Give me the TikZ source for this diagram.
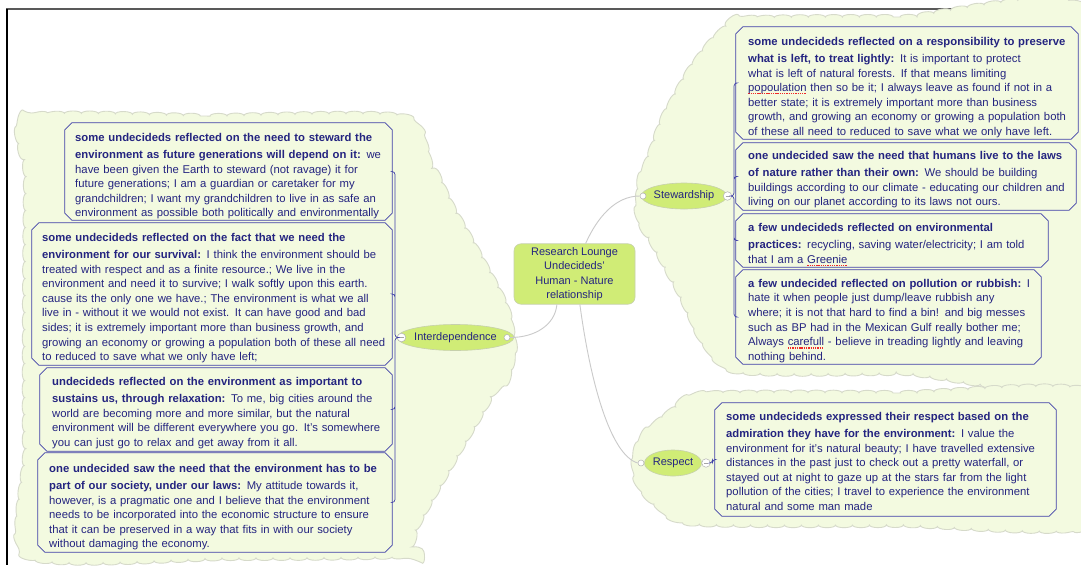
\documentclass[tikz,border=0pt]{standalone}
\usepackage{fontspec}
\setmainfont{Liberation Sans}
\usetikzlibrary{shapes.geometric,decorations.pathmorphing}

\definecolor{cloudfill}{RGB}{243,250,224}
\definecolor{cloudedge}{RGB}{214,218,202}
\definecolor{topicfill}{RGB}{208,236,118}
\definecolor{topicedge}{RGB}{198,208,172}
\definecolor{noteedge}{RGB}{64,64,168}
\definecolor{ink}{RGB}{36,36,128}
\definecolor{linkgrey}{RGB}{202,202,202}
\definecolor{typored}{RGB}{240,40,40}

% red dotted spell-check mark
\newsavebox\typobox
\newcommand\typo[1]{\leavevmode\sbox\typobox{#1}\rlap{\lower2.8pt\hbox to\wd\typobox{\textcolor{typored}{\xleaders\hbox{\rule{1.3pt}{1.1pt}\kern0.9pt}\hfill}}}\usebox\typobox}
% octagonal frame round a note node
\newcommand\chamferframe[1]{\draw[noteline] ([xshift=7pt]#1.north west) -- ([xshift=-7pt]#1.north east)
	-- ([yshift=-7pt]#1.north east) -- ([yshift=7pt]#1.south east) -- ([xshift=-7pt]#1.south east)
	-- ([xshift=7pt]#1.south west) -- ([yshift=7pt]#1.south west) -- ([yshift=-7pt]#1.north west) -- cycle;}

\tikzset{
	bgcloud/.style={fill=cloudfill,draw=cloudedge,line width=0.9pt,decorate,
		decoration={bumps,segment length=34pt,amplitude=2.6pt}},
	hub/.style={rectangle,rounded corners=7pt,fill=topicfill,draw=topicedge,line width=0.6pt,
		minimum width=121pt,minimum height=60pt,align=center,text=ink,
		font=\fontsize{11}{14.5}\selectfont},
	topic/.style={ellipse,fill=topicfill,draw=topicedge,line width=0.6pt,inner sep=0pt,
		minimum height=26pt,text=ink,font=\fontsize{11}{13}\selectfont},
	notebox/.style={rectangle,inner sep=0pt},
	noteline/.style={draw=noteedge,line width=0.8pt,line join=round},
	notetext/.style={anchor=north west,inner sep=0pt,align=left,text width=345pt,text=ink,
		font=\fontsize{11.3}{14.6}\selectfont},
	linkdot/.style={circle,fill=white,draw=gray!60,line width=0.5pt,inner sep=0pt,minimum size=6pt},
	foldmark/.style={circle,fill=white,draw=gray!60,line width=0.5pt,inner sep=0pt,minimum size=8.5pt,
		path picture={\draw[gray!70,line width=0.7pt] ([xshift=-2pt]path picture bounding box.center) -- ([xshift=2pt]path picture bounding box.center);}},
	link/.style={draw=linkgrey,line width=0.9pt},
	branch/.style={draw=noteedge,line width=0.7pt,rounded corners=3pt}
}

\begin{document}
\begin{tikzpicture}[x=1pt,y=-1pt]
	\useasboundingbox (0,0) rectangle (1081,565);
	\fill[white] (0,0) rectangle (1081,565);
	\clip (0,0) rectangle (1081,565);
	% window edge
	\draw[gray!70!black,line width=2pt] (6,9) -- (1081,9);
	\draw[black,line width=1.4pt] (7,9) -- (7,565);
	% clouds
	\path[bgcloud] plot[smooth cycle,tension=.4] coordinates {(27,117) (210,116) (400,116) (430,160) (452,205) (480,255) (505,303) (514,343) (509,374) (494,393) (478,420) (462,447) (446,475) (430,503) (416,530) (411,555) (230,558) (29,557) (25,450) (25,300) (26,180)};
	\path[bgcloud] plot[smooth cycle,tension=.4] coordinates {(742,19) (900,17) (1095,17) (1095,372) (900,373) (742,372) (705,345) (680,295) (657,252) (640,222) (639,186) (651,150) (663,118) (688,72) (714,38)};
	\path[bgcloud] plot[smooth cycle,tension=.4] coordinates {(705,394) (900,393) (1095,393) (1095,524) (900,525) (700,524) (663,511) (642,490) (634,462) (642,438) (666,415)};

	\node[hub] (hub) at (574.5,274) {Research Lounge\\Undecideds'\\Human - Nature\\relationship};
	\node[topic,minimum width=99pt] (inter) at (455.5,337.5) {Interdependence};
	\node[topic,minimum width=80pt] (stew) at (684,196) {Stewardship};
	\node[topic,minimum width=57pt] (resp) at (673,463) {Respect};
	\node[linkdot] (idot) at (507,337.5) {};
	\node[foldmark] (imin) at (401.5,337.5) {};
	\node[linkdot] (sdot) at (643,196) {};
	\node[foldmark] (smin) at (727.5,196) {};
	\node[linkdot] (rdot) at (641,463) {};
	\node[foldmark] (rmin) at (706,463) {};

	\draw[link] (hub.70) .. controls (597,218) and (615,196) .. (sdot.west);
	\draw[link] (hub.240) .. controls (555,325) and (535,337.5) .. (idot.east);
	\draw[link] (hub.280) .. controls (590,380) and (610,455) .. (rdot.west);

	% note frames
	\node[notebox,minimum width=327pt,minimum height=97pt] (i1) at (228.5,171.5) {};
	\node[notebox,minimum width=360pt,minimum height=142pt] (i2) at (212,294) {};
	\node[notebox,minimum width=352pt,minimum height=83pt] (i3) at (216,409.5) {};
	\node[notebox,minimum width=354pt,minimum height=99pt] (i4) at (215,502.5) {};
	\node[notebox,minimum width=342pt,minimum height=112pt] (s1) at (907,83) {};
	\node[notebox,minimum width=340pt,minimum height=67pt] (s2) at (906,176.5) {};
	\node[notebox,minimum width=312pt,minimum height=53pt] (s3) at (892,240.5) {};
	\node[notebox,minimum width=305pt,minimum height=94pt] (s4) at (888.5,317) {};
	\node[notebox,minimum width=341pt,minimum height=113pt] (r1) at (885.5,459.5) {};
	\chamferframe{i1}\chamferframe{i2}\chamferframe{i3}\chamferframe{i4}
	\chamferframe{s1}\chamferframe{s2}\chamferframe{s3}\chamferframe{s4}
	\chamferframe{r1}

	% interdependence notes
	\node[notetext] (i1t) at (75,133)
		{\textbf{some undecideds reflected on the need to steward the}\\[2.5pt]
		\textbf{environment as future generations will depend on it:} we\\
		have been given the Earth to steward (not ravage) it for\\
		future generations; I am a guardian or caretaker for my\\
		grandchildren; I want my grandchildren to live in as safe an\\
		environment as possible both politically and environmentally};
	\node[notetext] (i2t) at (42,233)
		{\textbf{some undecideds reflected on the fact that we need the}\\[2.5pt]
		\textbf{environment for our survival:} I think the environment should be\\
		treated with respect and as a finite resource.; We live in the\\
		environment and need it to survive; I walk softly upon this earth.\\
		cause its the only one we have.; The environment is what we all\\
		live in - without it we would not exist.  It can have good and bad\\
		sides; it is extremely important more than business growth, and\\
		growing an economy or growing a population both of these all need\\
		to reduced to save what we only have left;};
	\node[notetext] (i3t) at (52,377)
		{\textbf{undecideds reflected on the environment as important to}\\[2.5pt]
		\textbf{sustains us, through relaxation:} To me, big cities around the\\
		world are becoming more and more similar, but the natural\\
		environment will be different everywhere you go. It's somewhere\\
		you can just go to relax and get away from it all.};
	\node[notetext] (i4t) at (49,464)
		{\textbf{one undecided saw the need that the environment has to be}\\[2.5pt]
		\textbf{part of our society, under our laws:} My attitude towards it,\\
		however, is a pragmatic one and I believe that the environment\\
		needs to be incorporated into the economic structure to ensure\\
		that it can be preserved in a way that fits in with our society\\
		without damaging the economy.};

	% stewardship notes
	\node[notetext] (s1t) at (748,37)
		{\textbf{some undecideds reflected on a responsibility to preserve}\\[2.5pt]
		\textbf{what is left, to treat lightly:} It is important to protect\\
		what is left of natural forests.  If that means limiting\\
		\typo{popoulation} then so be it; I always leave as found if not in a\\
		better state;  it is extremely important more than business\\
		growth, and growing an economy or growing a population both\\
		of these all need to reduced to save what we only have left.};
	\node[notetext] (s2t) at (748,151)
		{\textbf{one undecided saw the need that humans live to the laws}\\[2.5pt]
		\textbf{of nature rather than their own:} We should be building\\
		buildings according to our climate - educating our children and\\
		living on our planet according to its laws not ours.};
	\node[notetext] (s3t) at (748,223)
		{\textbf{a few undecideds reflected on environmental}\\[2.5pt]
		\textbf{practices:} recycling, saving water/electricity; I am told\\
		that I am a \typo{Greenie}};
	\node[notetext] (s4t) at (748,279)
		{\textbf{a few undecided reflected on pollution or rubbish:} I\\
		hate it when people just dump/leave rubbish any\\
		where; it is not that hard to find a bin! and big messes\\
		such as BP had in the Mexican Gulf really bother me;\\
		Always \typo{carefull} - believe in treading lightly and leaving\\
		nothing behind.};

	% respect note
	\node[notetext] (r1t) at (726,412)
		{\textbf{some undecideds expressed their respect based on the}\\[2.5pt]
		\textbf{admiration they have for the environment:} I value the\\
		environment for it's natural beauty; I have travelled extensive\\
		distances in the past just to check out a pretty waterfall, or\\
		stayed out at night to gaze up at the stars far from the light\\
		pollution of the cities; I travel to experience the environment\\
		natural and some man made};

	\draw[branch] (imin.west) -- ++(-2,0) |- (i1.east)
		(imin.west) -- ++(-2,0) |- (i2.east)
		(imin.west) -- ++(-2,0) |- (i3.east)
		(imin.west) -- ++(-2,0) |- (i4.east);
	\draw[branch] (smin.east) -- ++(2,0) |- (s1.west)
		(smin.east) -- ++(2,0) |- (s2.west)
		(smin.east) -- ++(2,0) |- (s3.west)
		(smin.east) -- ++(2,0) |- (s4.west);
	\draw[branch] (rmin.east) -- ++(2,0) |- (r1.west);
\end{tikzpicture}
\end{document}
